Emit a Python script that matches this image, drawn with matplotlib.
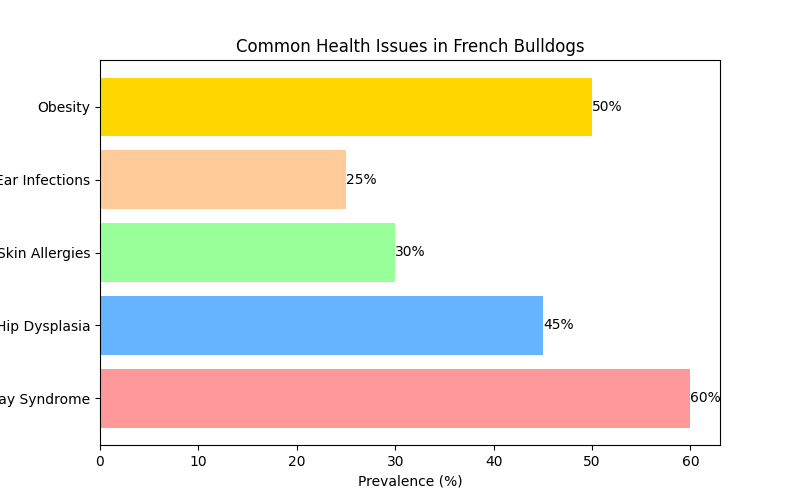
import matplotlib.pyplot as plt

issues = ['Brachycephalic Airway Syndrome', 'Hip Dysplasia', 'Skin Allergies',
          'Ear Infections', 'Obesity']
prevalence = [60, 45, 30, 25, 50]
colors = ['#ff9999', '#66b3ff', '#99ff99', '#ffcc99', '#ffd700']

fig, ax = plt.subplots(figsize=(8, 5), dpi=100)
bars = ax.barh(issues, prevalence, color=colors)
for bar in bars:
    w = bar.get_width()
    ax.text(w, bar.get_y() + bar.get_height() / 2, f'{w}%', va='center')

ax.set_xlabel('Prevalence (%)')
ax.set_title('Common Health Issues in French Bulldogs')
plt.savefig('out.png')
